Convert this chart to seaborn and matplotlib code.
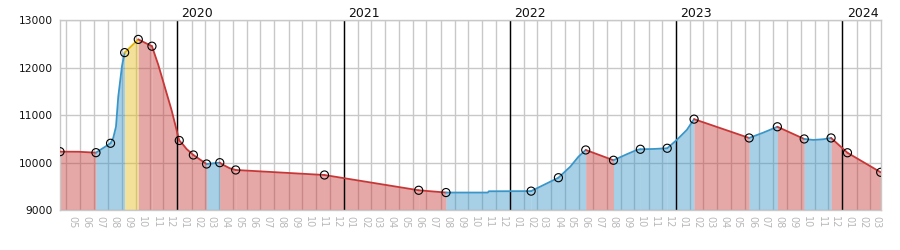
import matplotlib
matplotlib.use("Agg")
import matplotlib.pyplot as plt
import matplotlib.dates as mdates
from matplotlib.ticker import NullFormatter, FixedLocator
import numpy as np
import pandas as pd
import seaborn as sns

# ---- data ----
marker_dates = ["2019-04-18", "2019-07-06", "2019-08-07", "2019-09-07", "2019-10-07",
                "2019-11-06", "2020-01-05", "2020-02-05", "2020-03-05", "2020-04-03",
                "2020-05-08", "2020-11-19", "2021-06-14", "2021-08-13", "2022-02-16",
                "2022-04-17", "2022-06-16", "2022-08-16", "2022-10-14", "2022-12-12",
                "2023-02-09", "2023-06-10", "2023-08-11", "2023-10-09", "2023-12-07",
                "2024-01-12", "2024-03-25"]
marker_values = [10230, 10209, 10407, 12319, 12597,
                 12454, 10466, 10160, 9970, 9998,
                 9844, 9738, 9416, 9368, 9398,
                 9681, 10266, 10049, 10281, 10302,
                 10916, 10519, 10755, 10498, 10519,
                 10207, 9795]
# state of each interval between consecutive markers
segment_states = ["down", "up", "up", "peak", "down", "down", "down", "down", "up",
                  "down", "down", "down", "down", "up", "up", "up", "down", "up",
                  "up", "up", "down", "up", "down", "up", "down", "down"]
# intermediate points of the curve between markers
curve_dates = ["2019-05-28", "2019-08-13", "2019-08-19", "2019-08-24", "2019-09-01",
               "2019-11-20", "2019-12-05", "2019-12-19", "2019-12-31",
               "2020-01-14", "2020-01-21", "2020-04-11", "2020-04-25",
               "2021-11-13", "2021-11-15", "2022-05-13", "2022-05-31",
               "2022-09-14", "2022-10-06", "2022-11-12", "2023-01-02",
               "2023-01-24", "2023-07-11", "2023-10-29", "2023-11-20"]
curve_values = [10228, 10520, 10757, 11390, 12023,
                12059, 11568, 11110, 10652,
                10371, 10287, 9949, 9880,
                9368, 9395, 9913, 10124,
                10175, 10266, 10287, 10477,
                10688, 10631, 10477, 10492]
years = [2020, 2021, 2022, 2023, 2024]
y_ticks = [9000, 10000, 11000, 12000, 13000]

line_colors = {"down": "#c83737", "up": "#3a96c8", "peak": "#e6b400"}
fill_colors = {"down": "#c83c3c", "up": "#3c96c8", "peak": "#e6be1e"}

# ---- build tables ----
mk = pd.DataFrame({"date": pd.to_datetime(marker_dates), "value": marker_values})
cv = pd.DataFrame({"date": pd.to_datetime(curve_dates), "value": curve_values})
allpts = pd.concat([mk, cv]).sort_values("date").reset_index(drop=True)

rows = []
for i, st in enumerate(segment_states):
    d0, d1 = mk["date"].iloc[i], mk["date"].iloc[i + 1]
    seg = allpts[(allpts["date"] >= d0) & (allpts["date"] <= d1)].copy()
    seg["seg"] = i
    seg["state"] = st
    rows.append(seg)
segdf = pd.concat(rows).reset_index(drop=True)

# ---- figure ----
sns.set_theme(style="white")
plt.rcParams["font.family"] = ["DejaVu Sans"]
fig = plt.figure(figsize=(9, 2.5), dpi=100)
ax = fig.add_axes([60 / 900, 40 / 250, 820.7 / 900, 189.7 / 250])

for i, st in enumerate(segment_states):
    s = segdf[segdf["seg"] == i]
    ax.fill_between(s["date"], 9000, s["value"], color=fill_colors[st],
                    alpha=0.45, linewidth=0, zorder=1)

pal = {i: line_colors[st] for i, st in enumerate(segment_states)}
sns.lineplot(data=segdf, x="date", y="value", hue="seg", palette=pal,
             estimator=None, sort=True, linewidth=1.3, legend=False, ax=ax, zorder=3)

for y in years:
    ax.axvline(pd.Timestamp(f"{y}-01-01"), color="black", linewidth=1, zorder=2)
    ax.annotate(str(y), xy=(pd.Timestamp(f"{y}-01-01"), 1), xycoords=("data", "axes fraction"),
                xytext=(3, 2.5), textcoords="offset points", ha="left", va="baseline",
                fontsize=9, color="#111111")

sns.scatterplot(data=mk, x="date", y="value", marker="o", s=34, facecolor="none",
                edgecolor="black", linewidth=0.8, ax=ax, zorder=4)

ax.set_xlim(mk["date"].iloc[0], mk["date"].iloc[-1])
ax.set_ylim(9000, 13000)
ax.yaxis.set_major_locator(FixedLocator(y_ticks))
ax.set_yticklabels([str(v) for v in y_ticks], fontsize=7.7, color="#111111")

ax.xaxis.set_major_locator(mdates.MonthLocator())
ax.xaxis.set_major_formatter(NullFormatter())
ax.xaxis.set_minor_locator(mdates.MonthLocator(bymonthday=16))
ax.xaxis.set_minor_formatter(mdates.DateFormatter("%m"))
ax.tick_params(axis="x", which="minor", labelsize=7, labelcolor="#b8b8b8",
               labelrotation=-90, length=0, pad=4.5)
ax.tick_params(axis="x", which="major", length=0)
ax.tick_params(axis="y", length=0, pad=5)

ax.set_axisbelow(True)
ax.grid(True, which="major", axis="both", color="#c8c8c8", linewidth=1)
for sp in ax.spines.values():
    sp.set_color("#c8c8c8")
    sp.set_linewidth(1)
ax.set_xlabel("")
ax.set_ylabel("")

fig.savefig("out.png", dpi=100)
